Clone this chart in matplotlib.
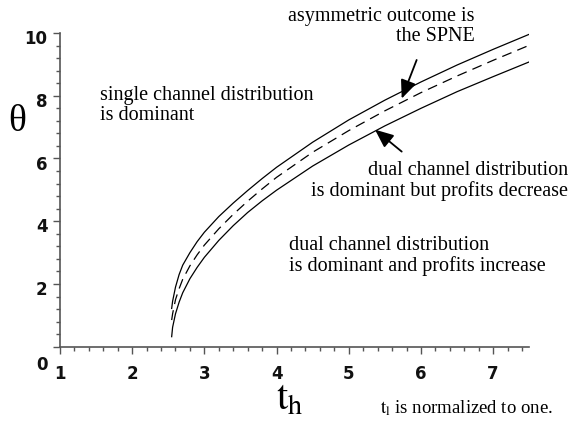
import numpy as np
import matplotlib.pyplot as plt
from matplotlib.transforms import ScaledTranslation

plt.rcParams['font.family'] = ['Liberation Serif', 'DejaVu Serif']
plt.rcParams['mathtext.fontset'] = 'stix'

# values (t_h, theta)
t_vals = [2.547, 2.56, 2.6, 2.65, 2.7, 2.8, 2.9, 3.0, 3.2, 3.4, 3.6, 3.8,
          4.0, 4.5, 5.0, 5.5, 6.0, 6.5, 7.0, 7.5]
upper = [1.22, 1.45, 1.9, 2.3, 2.6, 3.0, 3.35, 3.65, 4.15, 4.58, 4.98, 5.36,
         5.72, 6.52, 7.23, 7.86, 8.44, 8.98, 9.48, 9.96]
dashed = [0.85, 1.05, 1.5, 1.85, 2.15, 2.58, 2.93, 3.24, 3.76, 4.22, 4.64, 5.03,
          5.4, 6.2, 6.89, 7.52, 8.1, 8.63, 9.13, 9.61]
lower = [0.32, 0.62, 1.05, 1.42, 1.72, 2.17, 2.53, 2.85, 3.39, 3.86, 4.28, 4.65,
         4.99, 5.76, 6.43, 7.04, 7.6, 8.13, 8.61, 9.08]

x_ticks = [1, 2, 3, 4, 5, 6, 7]
y_ticks = [0, 2, 4, 6, 8, 10]

fig = plt.figure(figsize=(5.69, 4.26), dpi=100)
ax = fig.add_axes([0.1054, 0.1861, 0.8248, 0.7364])

ax.plot(t_vals, upper, color='black', lw=0.9)
ax.plot(t_vals, dashed, color='black', lw=0.9, linestyle=(0, (8, 5)))
ax.plot(t_vals, lower, color='black', lw=0.9)

ax.set_xlim(1, 7.5)
ax.set_ylim(0, 10)
for s in ['top', 'right']:
    ax.spines[s].set_visible(False)
for s in ['left', 'bottom']:
    ax.spines[s].set_color('#555555')
    ax.spines[s].set_linewidth(1.2)

ax.set_xticks(x_ticks)
ax.set_xticks(np.arange(1, 7.51, 0.2), minor=True)
ax.set_yticks(y_ticks)
ax.set_yticks(np.arange(0, 10.01, 0.4), minor=True)
ax.tick_params(which='major', length=5, width=1, color='#555555', direction='out')
ax.tick_params(which='minor', length=3, width=1, color='#555555', direction='out')
ax.tick_params(axis='x', which='major', pad=8)
ax.tick_params(axis='y', which='major', pad=4)
for lab in ax.get_xticklabels() + ax.get_yticklabels():
    lab.set_family('DejaVu Sans')
    lab.set_fontweight('bold')
    lab.set_fontsize(12)
    lab.set_color('#111111')
for lab in ax.get_yticklabels():
    dy = -12 / 72 if lab.get_text() == '0' else -3 / 72
    lab.set_transform(lab.get_transform() + ScaledTranslation(0, dy, fig.dpi_scale_trans))


def px(x, y):
    return (x / 569, 1 - y / 426)


fig.text(*px(17, 122), '\u03b8', fontsize=27, ha='center', va='center')
fig.text(*px(290, 400), r'$\mathrm{t}_\mathrm{h}$', fontsize=29, ha='center', va='center')
fig.text(*px(380, 413), r'$\mathrm{t}_{\mathrm{l}}$' + ' is normalized to one.',
         fontsize=13.5, ha='left', va='baseline')

fs = 14.5
fig.text(*px(100, 86), 'single channel distribution\nis dominant', fontsize=fs,
         ha='left', va='top', linespacing=1.1)
fig.text(*px(475, 7), 'asymmetric outcome is\nthe SPNE', fontsize=fs,
         ha='right', va='top', multialignment='right', linespacing=1.1)
fig.text(*px(568, 161), 'dual channel distribution\nis dominant but profits decrease', fontsize=fs,
         ha='right', va='top', multialignment='right', linespacing=1.1)
fig.text(*px(289, 236), 'dual channel distribution\nis dominant and profits increase', fontsize=fs,
         ha='left', va='top', linespacing=1.1)

arrow = dict(arrowstyle='-|>,head_length=0.7,head_width=0.3', color='black', lw=1.3,
             mutation_scale=16, shrinkA=0, shrinkB=0)
ax.annotate('', xy=(5.733, 7.91), xytext=(5.94, 9.14), arrowprops=arrow)
ax.annotate('', xy=(5.363, 6.92), xytext=(5.733, 6.22), arrowprops=arrow)

fig.savefig('out.png', dpi=100)
